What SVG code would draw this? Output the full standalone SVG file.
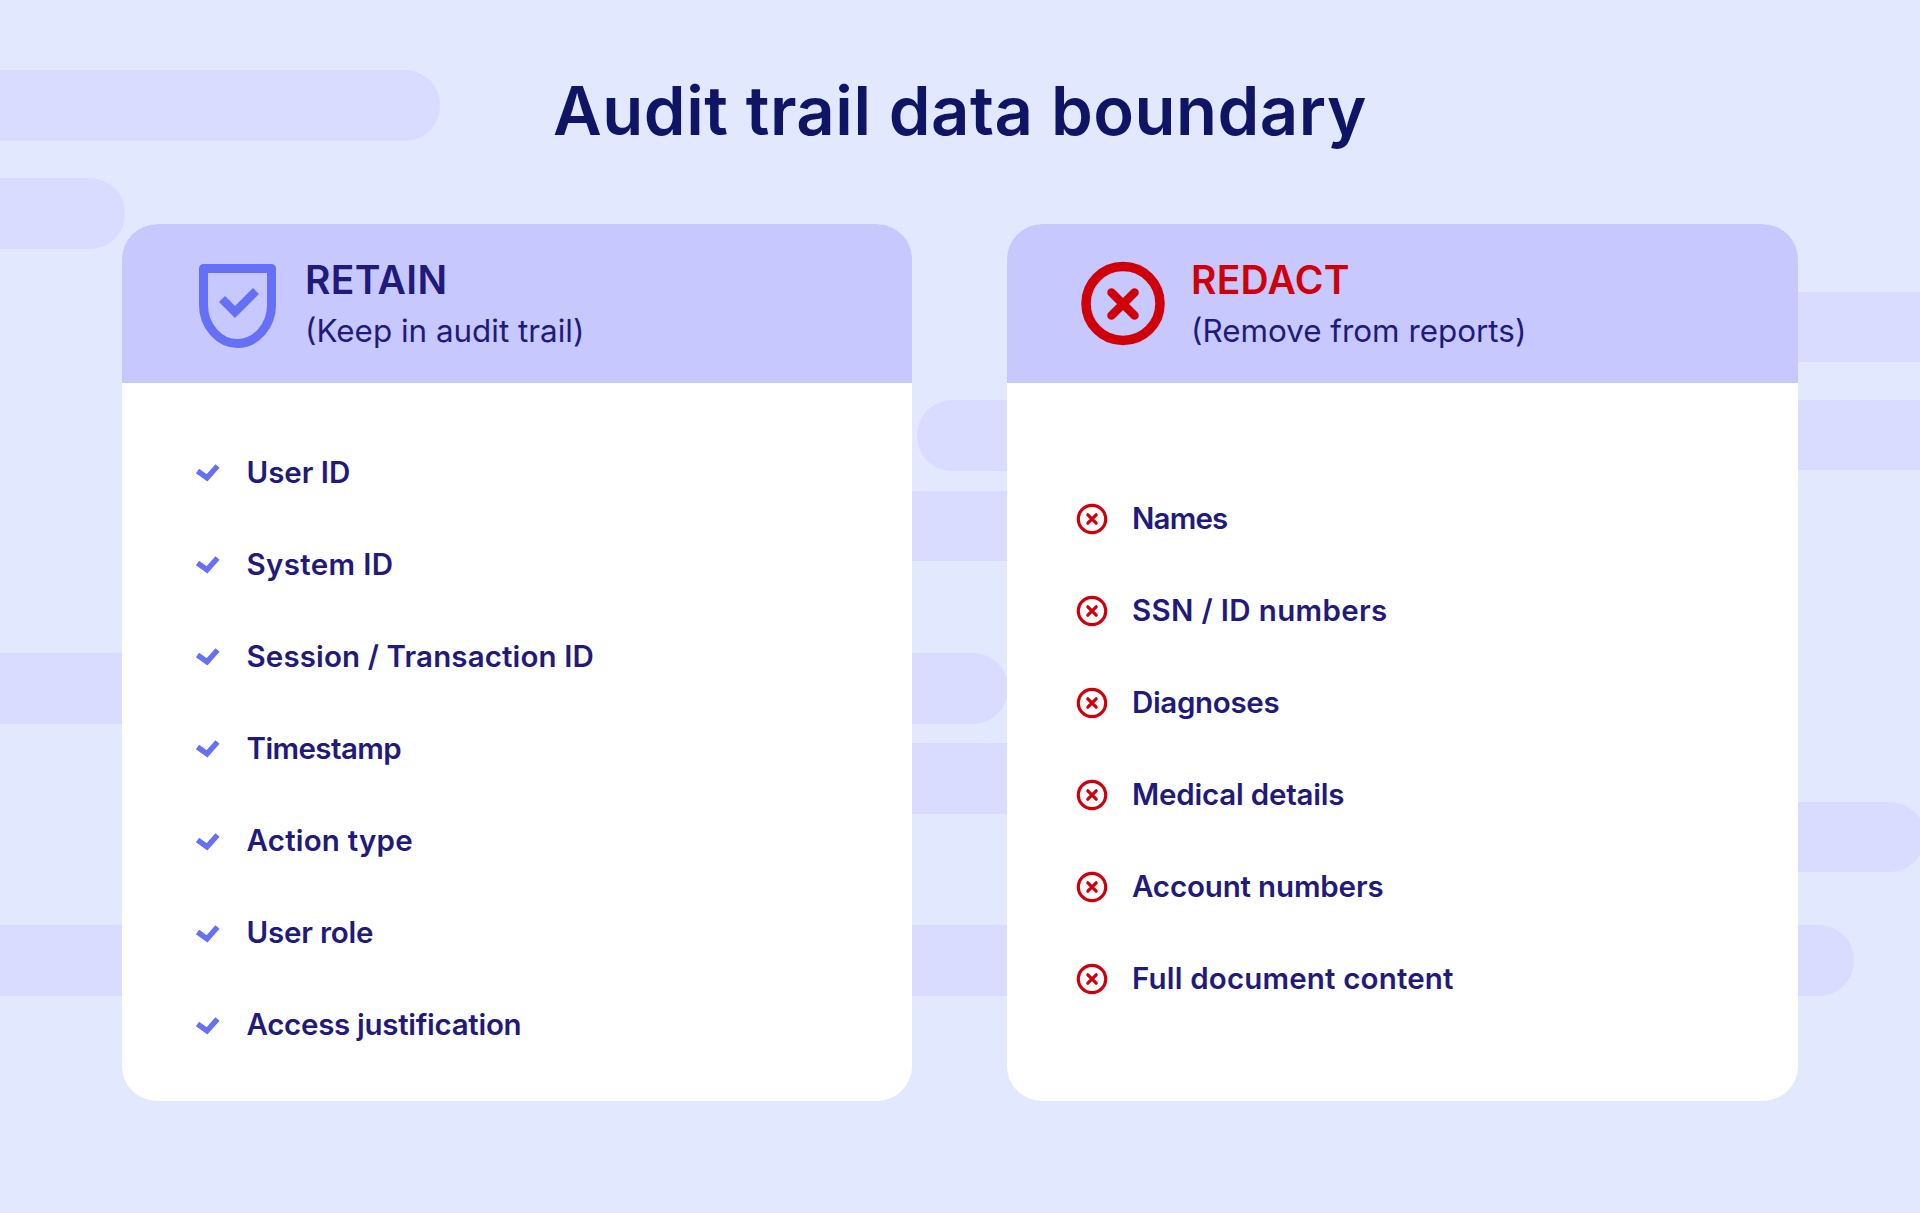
<svg xmlns="http://www.w3.org/2000/svg" width="1920" height="1213" viewBox="0 0 1920 1213">
<style>
text{font-family:Inter,"Noto Sans",sans-serif}
.pill{fill:#d9dcfe}
.title{font-size:67px;font-weight:600;fill:#0f1465;letter-spacing:0.5px}
.head{font-size:39px;font-weight:600}
.sub{font-size:31.400px;font-weight:400;fill:#1f1a7c}
.item{font-size:29.500px;font-weight:600;fill:#1f1a7c}
.chk{fill:none;stroke:#6570f7;stroke-width:5.500}
.xc{fill:none;stroke:#d0000b;stroke-width:3.200}
.xl{fill:none;stroke:#d0000b;stroke-width:3.200;stroke-linecap:round}
</style>
<defs>
<clipPath id="hc"><rect x="0" y="224" width="1920" height="159"/></clipPath>
<g id="tick"><path class="chk" d="M-9.500,-1 L0,5.800 L10.500,-6"/></g>
<g id="cross"><circle class="xc" r="13.700"/><path class="xl" d="M-4.200,-4.200 L4.200,4.200 M4.200,-4.200 L-4.200,4.200"/></g>
</defs>
<rect width="1920" height="1213" fill="#e2e8fe"/>
<g id="background">
<rect class="pill" x="-60" y="70" width="500" height="71" rx="35"/>
<rect class="pill" x="-60" y="178" width="185" height="71" rx="35"/>
<rect class="pill" x="1700" y="292" width="260" height="70"/>
<rect class="pill" x="917" y="400" width="200" height="71" rx="35"/>
<rect class="pill" x="1700" y="400" width="260" height="70"/>
<rect class="pill" x="880" y="491" width="200" height="70"/>
<rect class="pill" x="-60" y="653" width="300" height="71"/>
<rect class="pill" x="800" y="653" width="208" height="71" rx="35"/>
<rect class="pill" x="880" y="743" width="200" height="71"/>
<rect class="pill" x="1700" y="802" width="225" height="70" rx="35"/>
<rect class="pill" x="-60" y="925" width="300" height="71"/>
<rect class="pill" x="880" y="925" width="200" height="71"/>
<rect class="pill" x="1700" y="925" width="154" height="71" rx="35"/>
</g>
<text id="title" class="title" x="960" y="134.500" text-anchor="middle">Audit trail data boundary</text>
<g id="retain">
<rect x="122" y="224" width="790" height="877" rx="35" fill="#fff"/>
<rect x="122" y="224" width="790" height="230" rx="35" fill="#c7c8fe" clip-path="url(#hc)"/>
<path d="M203.500,268.500 H271.500 V305 C271.500,326 256,343.500 237.500,343.500 C219,343.500 203.500,326 203.500,305 Z" fill="none" stroke="#6570f7" stroke-width="9" stroke-linejoin="round"/>
<path d="M222,299 L235,312 L256,291" fill="none" stroke="#6570f7" stroke-width="8.500"/>
<text class="head" x="305" y="294" fill="#1f1a7c" textLength="142">RETAIN</text>
<text class="sub" x="305" y="342">(Keep in audit trail)</text>
</g>
<g id="retain-items">
<use href="#tick" x="207" y="472"/><text class="item" x="246.500" y="483" textLength="103.700">User ID</text>
<use href="#tick" x="207" y="564"/><text class="item" x="246.500" y="575" textLength="146.500">System ID</text>
<use href="#tick" x="207" y="656"/><text class="item" x="246.500" y="667" textLength="347.400">Session / Transaction ID</text>
<use href="#tick" x="207" y="748"/><text class="item" x="246.500" y="759" textLength="155.100">Timestamp</text>
<use href="#tick" x="207" y="841"/><text class="item" x="246.500" y="851" textLength="166.200">Action type</text>
<use href="#tick" x="207" y="933"/><text class="item" x="246.500" y="943" textLength="127">User role</text>
<use href="#tick" x="207" y="1025"/><text class="item" x="246.500" y="1035" textLength="275.100">Access justification</text>
</g>
<g id="redact">
<rect x="1007" y="224" width="791" height="877" rx="35" fill="#fff"/>
<rect x="1007" y="224" width="791" height="230" rx="35" fill="#c7c8fe" clip-path="url(#hc)"/>
<circle cx="1123" cy="303.500" r="37" fill="none" stroke="#d0000b" stroke-width="9.500"/>
<path d="M1111.500,292.500 L1134.500,315.500 M1134.500,292.500 L1111.500,315.500" fill="none" stroke="#d0000b" stroke-width="8.500" stroke-linecap="round"/>
<text class="head" x="1191" y="294" fill="#d0000b" textLength="158.400">REDACT</text>
<text class="sub" x="1191" y="342">(Remove from reports)</text>
</g>
<g id="redact-items">
<use href="#cross" x="1092" y="519"/><text class="item" x="1132" y="529" textLength="96.200">Names</text>
<use href="#cross" x="1092" y="611"/><text class="item" x="1132" y="621" textLength="255.300">SSN / ID numbers</text>
<use href="#cross" x="1092" y="703"/><text class="item" x="1132" y="713" textLength="147.600">Diagnoses</text>
<use href="#cross" x="1092" y="795"/><text class="item" x="1132" y="805" textLength="212.500">Medical details</text>
<use href="#cross" x="1092" y="887"/><text class="item" x="1132" y="897" textLength="251.700">Account numbers</text>
<use href="#cross" x="1092" y="979"/><text class="item" x="1132" y="989" textLength="321.500">Full document content</text>
</g>
</svg>
